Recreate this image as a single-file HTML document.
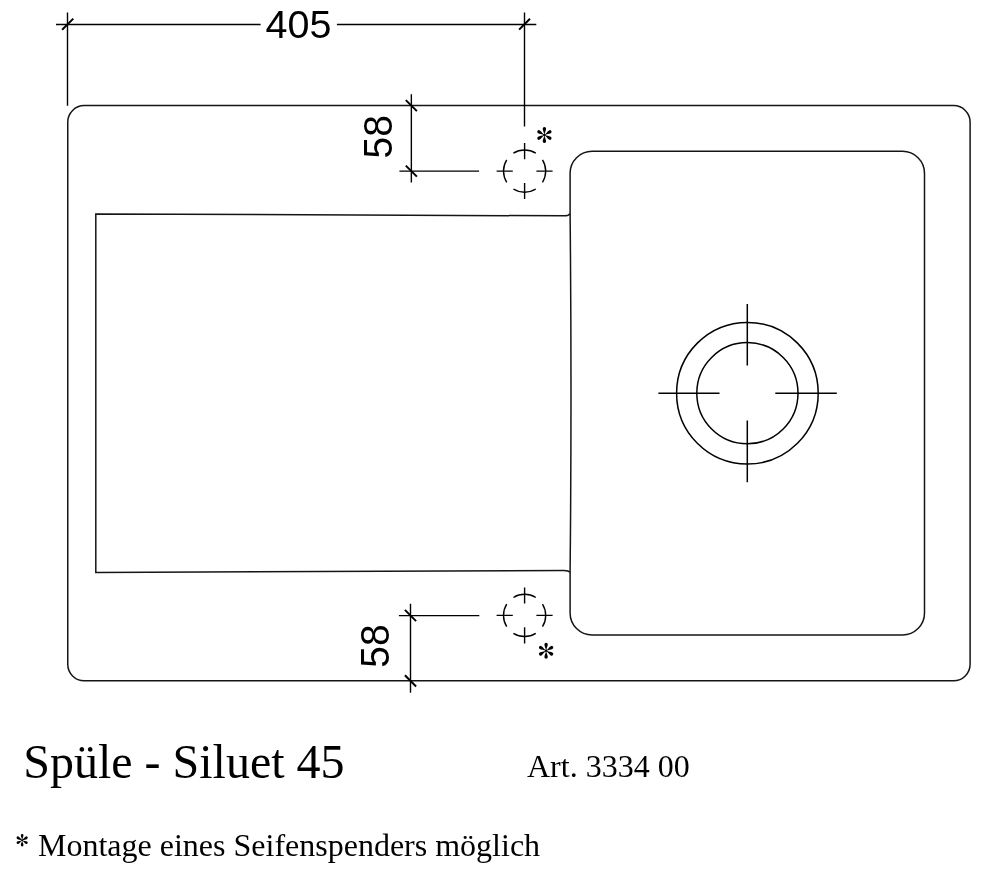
<!DOCTYPE html>
<html><head><meta charset="utf-8"><style>
html,body{margin:0;padding:0;background:#fff;width:992px;height:878px;overflow:hidden}
svg{display:block}
svg{filter:grayscale(1)}
.sans{font-family:"Liberation Sans",sans-serif}
.serif{font-family:"Liberation Serif",serif}
</style></head><body>
<svg width="992" height="878" viewBox="0 0 992 878">
<defs>
<g id="petal"><path d="M0 0 C-0.35 -2.5 -1.7 -4.6 -1.7 -6.3 A1.7 1.7 0 0 1 1.7 -6.3 C1.7 -4.6 0.35 -2.5 0 0Z"/></g>
<g id="ast">
<use href="#petal"/><use href="#petal" transform="rotate(60)"/><use href="#petal" transform="rotate(120)"/>
<use href="#petal" transform="rotate(180)"/><use href="#petal" transform="rotate(240)"/><use href="#petal" transform="rotate(300)"/>
<circle r="1.3"/>
</g>
<g id="tap" fill="none" stroke="#000" stroke-width="1.4">
<path d="M-11.18 -17.89A21.1 21.1 0 0 1 11.18 -17.89M17.89 -11.18A21.1 21.1 0 0 1 17.89 11.18M11.18 17.89A21.1 21.1 0 0 1 -11.18 17.89M-17.89 11.18A21.1 21.1 0 0 1 -17.89 -11.18"/>
<path d="M-28 0H-11.8M11.8 0H28M0 -28V-11.8M0 11.8V28"/>
</g>
</defs>

<g fill="none" stroke="#151515" stroke-width="1.5">
<!-- outer -->
<rect x="67.75" y="105.6" width="902.35" height="575.2" rx="16.5" ry="16.5"/>
<!-- basin -->
<path d="M592.1 151.3H902.5A22 22 0 0 1 924.5 173.3V613A22 22 0 0 1 902.5 635H592.1A22 22 0 0 1 570.1 613V572.3Q571.9 393 570.1 213.7V173.3A22 22 0 0 1 592.1 151.3Z"/>
<!-- drainboard -->
<path d="M570.1 213.7Q568.5 215.9 564 215.85L95.8 213.9V572.5L564 570.5Q568.5 570.5 570.1 572.3"/>
</g>

<!-- drain -->
<g fill="none" stroke="#000" stroke-width="1.5">
<circle cx="747.4" cy="393.2" r="70.8"/>
<circle cx="747.4" cy="393.2" r="50.6"/>
<path d="M658.4 393.2H719.5M775.3 393.2H836.8M747.3 304.1V365.6M747.3 420.6V482.2"/>
</g>

<use href="#tap" x="524.6" y="171.1"/>
<use href="#tap" x="524.6" y="615.4"/>

<!-- dimensions -->
<g fill="none" stroke="#000" stroke-width="1.4">
<path d="M56 24.5H260.6M336.9 24.5H536.3"/>
<path d="M67.5 12.5V105.7M524.5 12.4V126.4"/>
<path d="M411.35 94.2V182.6M399.4 171.1H479.1"/>
<path d="M410.5 603.8V692.8M398.9 615.6H479.3"/>
</g>
<g fill="none" stroke="#000" stroke-width="2">
<path d="M62.1 29.8L73.3 18.6M519.1 29.6L530 18.7"/>
<path d="M405.8 100.1L416.9 111.1M405.8 165.6L416.9 176.6"/>
<path d="M404.9 609.9L416.1 621.1M404.9 675.3L416.1 686.5"/>
</g>

<g fill="#000">
<use href="#ast" transform="translate(544.4 135)"/>
<use href="#ast" transform="translate(546.1 650.8)"/>
<use href="#ast" transform="translate(22.15 840.2) scale(0.78)"/>
</g>

<g class="sans" font-size="39.5" fill="#000">
<text x="265.6" y="38.0">405</text>
<text font-size="40.3" transform="translate(392.3 158.4) rotate(-90) scale(0.965 1)">58</text>
<text font-size="40.3" transform="translate(389.3 667.7) rotate(-90) scale(0.965 1)">58</text>
</g>
<g class="serif" fill="#000">
<text x="23.2" y="777.5" font-size="48">Spüle - Siluet 45</text>
<text x="527" y="776.6" font-size="32">Art. 3334 00</text>
<text x="38" y="856" font-size="32">Montage eines Seifenspenders möglich</text>
</g>
</svg>
</body></html>
